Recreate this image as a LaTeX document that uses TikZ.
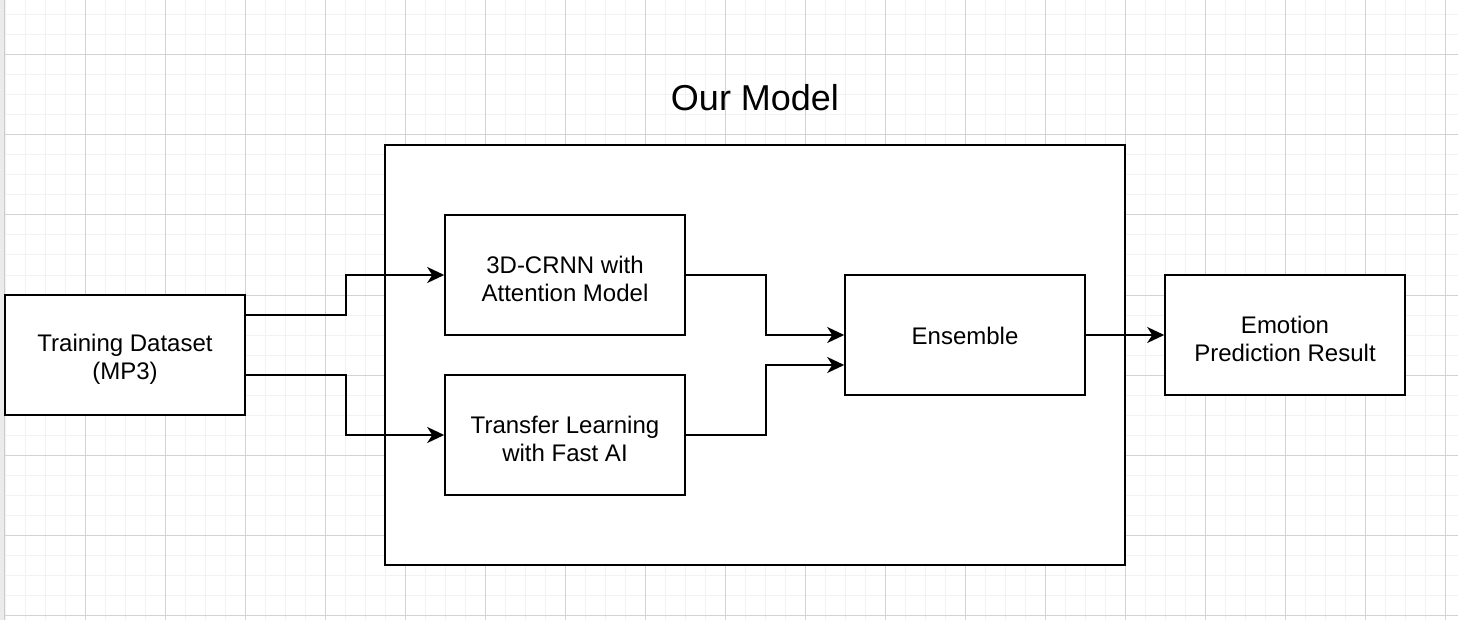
\documentclass[tikz,border=0pt]{standalone}
\usepackage{fontspec}
\setmainfont{Liberation Sans}
\usetikzlibrary{arrows.meta,calc}
\definecolor{minorgrid}{HTML}{F2F2F2}
\definecolor{majorgrid}{HTML}{D3D3D3}
\tikzset{
  box/.style={draw=black, line width=1.6pt, fill=white, minimum width=240pt, minimum height=120pt, inner sep=0pt, align=center, font=\fontsize{24}{28}\selectfont},
  conn/.style={draw=black, line width=2pt, -{Stealth[length=17pt,width=16pt,inset=5pt]}},
}
\begin{document}
\begin{tikzpicture}[x=1pt,y=-1pt]
\useasboundingbox (0,0) rectangle (1458,620);
\fill[white] (0,0) rectangle (1458,620);
% grid
\foreach \x in {5,25,...,1458} \draw[minorgrid, line width=1pt] (\x,0) -- (\x,620);
\foreach \y in {15,35,...,620} \draw[minorgrid, line width=1pt] (0,\y) -- (1458,\y);
\foreach \x in {85,165,...,1458} \draw[majorgrid, line width=1pt] (\x,0) -- (\x,620);
\foreach \y in {55,135,...,620} \draw[majorgrid, line width=1pt] (0,\y) -- (1458,\y);
\fill[black!8] (0,0) rectangle (4,620);
\draw[black!20, line width=1pt] (4,0) -- (4,620);
% nodes
\node[box, minimum width=740pt, minimum height=420pt] (model) at (755,355) {};
\node[font=\fontsize{36}{40}\selectfont, inner sep=0pt] (title) at (755,98) {Our Model};
\node[box] (train) at (125,355) {\rule{0pt}{26pt}Training Dataset\\(MP3)};
\node[box] (crnn) at (565,275) {\rule{0pt}{26pt}3D-CRNN with\\Attention Model};
\node[box] (tl) at (565,435) {\rule{0pt}{26pt}Transfer Learning\\with Fast AI};
\node[box] (ens) at (965,335) {\rule{0pt}{20pt}Ensemble};
\node[box] (emo) at (1285,335) {\rule{0pt}{26pt}Emotion\\Prediction Result};
% connectors
\draw[conn] ([yshift=40pt]train.east) -- ++(100,0) |- (crnn.west);
\draw[conn] ([yshift=-20pt]train.east) -- ++(100,0) |- (tl.west);
\draw[conn] (crnn.east) -- ++(80,0) |- (ens.west);
\draw[conn] (tl.east) -- ++(80,0) |- ([yshift=-30pt]ens.west);
\draw[conn] (ens.east) -- (emo.west);
\end{tikzpicture}
\end{document}
